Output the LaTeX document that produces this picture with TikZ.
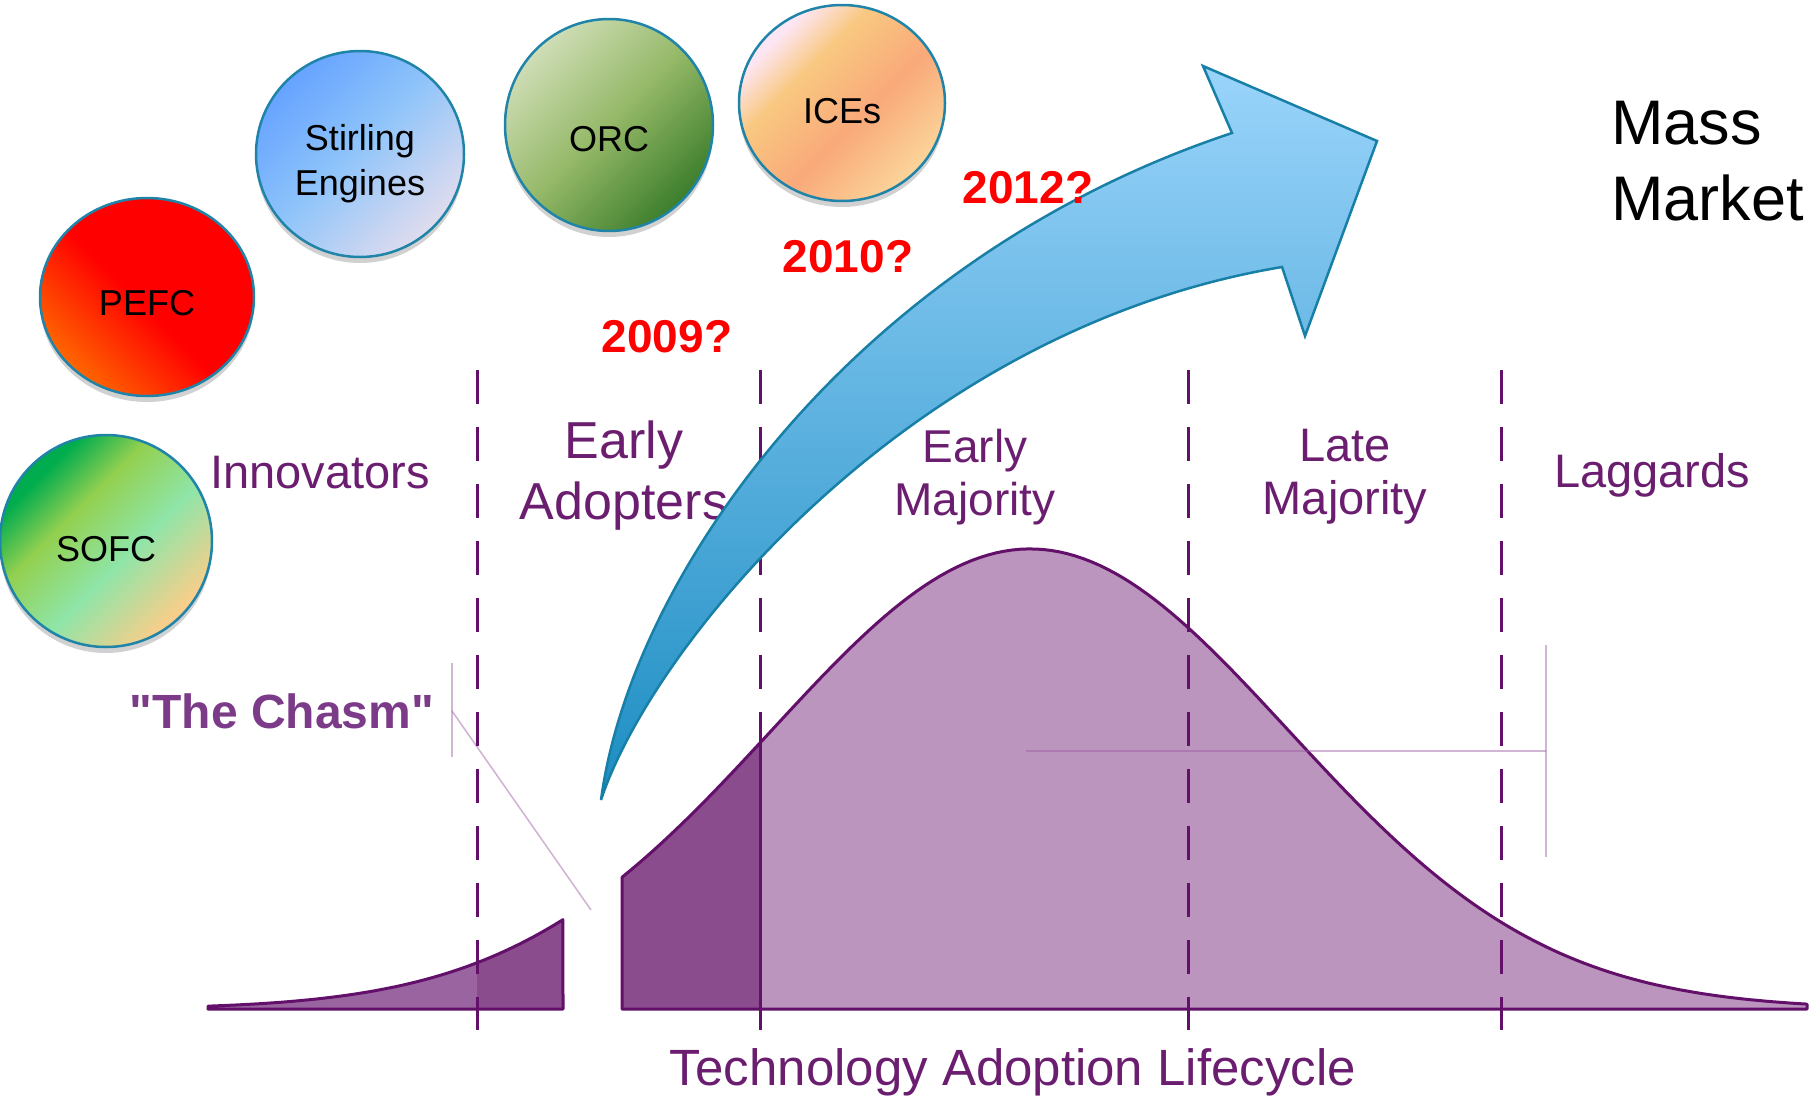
\documentclass[tikz,border=0pt]{standalone}
\usepackage{fontspec}
\setmainfont{Liberation Sans}
\usetikzlibrary{shapes.geometric,shadows}
\newcommand\sqglyph{\XeTeXglyph\XeTeXcharglyph"22\relax}
\definecolor{lblpurple}{HTML}{6B1E6F}
\definecolor{chasmpurple}{HTML}{7C3B88}
\definecolor{curveline}{HTML}{63106A}
\definecolor{innfill}{HTML}{9A64A0}
\definecolor{eafill}{HTML}{8B4C8E}
\definecolor{majfill}{HTML}{BB95BE}
\definecolor{pointer}{HTML}{9A5AA0}
\definecolor{circedge}{HTML}{1F84A8}
\definecolor{arrowedge}{HTML}{187FA6}
\definecolor{arrowtop}{HTML}{9AD4FB}
\definecolor{arrowmid}{HTML}{80C2EC}
\definecolor{arrowbot}{HTML}{1C8DC2}
\pgfdeclarehorizontalshading{sofcshade}{100bp}{color(0bp)=({rgb,255:red,0;green,172;blue,78}); color(28bp)=({rgb,255:red,0;green,172;blue,78}); color(40bp)=({rgb,255:red,146;green,208;blue,80}); color(56bp)=({rgb,255:red,143;green,229;blue,168}); color(75bp)=({rgb,255:red,255;green,204;blue,136}); color(100bp)=({rgb,255:red,255;green,204;blue,136})}
\pgfdeclarehorizontalshading{iceshade}{100bp}{color(0bp)=({rgb,255:red,253;green,230;blue,243}); color(27bp)=({rgb,255:red,253;green,230;blue,243}); color(38bp)=({rgb,255:red,249;green,200;blue,128}); color(56bp)=({rgb,255:red,249;green,169;blue,122}); color(75bp)=({rgb,255:red,251;green,213;blue,154}); color(100bp)=({rgb,255:red,251;green,213;blue,154})}
\pgfdeclarehorizontalshading{pefcshade}{100bp}{color(0bp)=({rgb,255:red,255;green,102;blue,0}); color(25bp)=({rgb,255:red,255;green,102;blue,0}); color(48bp)=({rgb,255:red,255;green,0;blue,0}); color(100bp)=({rgb,255:red,255;green,0;blue,0})}
\pgfdeclarehorizontalshading{stirshade}{100bp}{color(0bp)=({rgb,255:red,102;green,163;blue,255}); color(25bp)=({rgb,255:red,102;green,163;blue,255}); color(48bp)=({rgb,255:red,142;green,196;blue,250}); color(75bp)=({rgb,255:red,224;green,220;blue,238}); color(100bp)=({rgb,255:red,224;green,220;blue,238})}
\pgfdeclarehorizontalshading{orcshade}{100bp}{color(0bp)=({rgb,255:red,207;green,221;blue,182}); color(25bp)=({rgb,255:red,207;green,221;blue,182}); color(50bp)=({rgb,255:red,148;green,184;blue,103}); color(75bp)=({rgb,255:red,60;green,126;blue,44}); color(100bp)=({rgb,255:red,60;green,126;blue,44})}
\tikzset{
  circ/.style={ellipse, draw=circedge, line width=2.5pt, inner sep=0pt,
    drop shadow={fill=black, opacity=0.18, shadow xshift=0pt, shadow yshift=-6pt}},
  circtext/.style={inner sep=0pt, align=center, font=\fontsize{36}{45}\selectfont, text=black},
  lbl/.style={text=lblpurple, inner sep=0pt, align=center, anchor=base},
  yr/.style={text=red, inner sep=0pt, anchor=base, font=\bfseries\fontsize{46}{50}\selectfont},
  divider/.style={draw=curveline, line width=3pt, dash pattern=on 34pt off 23pt},
  curveedge/.style={draw=curveline, line width=3pt, line join=round},
  pointerline/.style={draw=pointer, line width=1.6pt, opacity=0.45},
  bigarrow/.style={draw=arrowedge, line width=2.5pt, line join=miter, top color=arrowtop, middle color=arrowmid, bottom color=arrowbot}
}
\begin{document}
\begin{tikzpicture}[x=1pt,y=-1pt]
\useasboundingbox (0,0) rectangle (1814,1098);
% ---- bell curve fills
\fill[innfill] (208,1009) -- plot[domain=-3.186:-2.143, samples=40] ({1030+258*\x},{1009-460*exp(-0.5*\x*\x)}) -- (477,1009) -- cycle;
\fill[eafill] (477,1009) -- plot[domain=-2.143:-1.810, samples=15] ({1030+258*\x},{1009-460*exp(-0.5*\x*\x)}) -- (563,1009) -- cycle;
\fill[eafill] (622,1009) -- plot[domain=-1.581:-1.0465, samples=20] ({1030+258*\x},{1009-460*exp(-0.5*\x*\x)}) -- (760,1009) -- cycle;
\fill[majfill] (760,1009) -- plot[domain=-1.0465:3.012, samples=120] ({1030+258*\x},{1009-460*exp(-0.5*\x*\x)}) -- (1807,1009) -- cycle;
% ---- bell curve outlines
\draw[curveedge] (208,1009) -- plot[domain=-3.186:-1.810, samples=50] ({1030+258*\x},{1009-460*exp(-0.5*\x*\x)}) -- (563,1009) -- cycle;
\draw[curveedge] (622,1009) -- plot[domain=-1.581:3.012, samples=150] ({1030+258*\x},{1009-460*exp(-0.5*\x*\x)}) -- (1807,1009) -- cycle;
\draw[curveedge] (760,1009) -- (760,743);
% ---- pointer lines
\coordinate (chasmtop) at (452,663);
\coordinate (chasmbot) at (452,757);
\coordinate (chasmknee) at (452,711);
\coordinate (chasmend) at (591,910);
\draw[pointerline] (chasmtop) -- (chasmbot);
\draw[pointerline] (chasmknee) -- (chasmend);
\coordinate (rbar) at (1026,751);
\coordinate (rknee) at (1546,751);
\coordinate (rtop) at (1546,645);
\coordinate (rbot) at (1546,857);
\draw[pointerline] (rbar) -- (rknee);
\draw[pointerline] (rtop) -- (rbot);
% ---- dividers
\foreach \dx/\nm in {477/da,760/db,1188/dc,1501/dd}{
  \coordinate (\nm t) at (\dx,370);
  \coordinate (\nm b) at (\dx,1030);
  \draw[divider] (\nm t) -- (\nm b);
}
% ---- segment labels (base anchor = baseline of last line)
\node[lbl, font=\fontsize{47}{53}\selectfont] (innov) at (320,488) {Innovators};
\node[lbl, font=\fontsize{52}{61}\selectfont] (eadopt) at (624,519) {Early\\Adopters};
\node[lbl, font=\fontsize{46}{53}\selectfont] (emaj) at (975,515) {Early\\Majority};
\node[lbl, font=\fontsize{47}{53}\selectfont] (lmaj) at (1345,514) {Late\\Majority};
\node[lbl, font=\fontsize{47}{53}\selectfont] (lagg) at (1652,487) {Laggards};
\node[lbl, font=\fontsize{51}{56}\selectfont] (tal) at (1013,1085) {Technology Adoption Lifecycle};
\node[lbl, text=chasmpurple, font=\bfseries\fontsize{48}{52}\selectfont] (chasm) at (282,728) {\sqglyph The Chasm\sqglyph};
% ---- big arrow
\coordinate (tail) at (601,800);
\coordinate (ocorner) at (1232,133);
\coordinate (lbarb) at (1203,66);
\coordinate (tip) at (1377,141);
\coordinate (rbarb) at (1305,336);
\coordinate (icorner) at (1282,267);
\draw[bigarrow] (tail) .. controls (630,580) and (850,260) .. (ocorner) -- (lbarb) -- (tip) -- (rbarb) -- (icorner) .. controls (905,330) and (650,650) .. (tail) -- cycle;
% ---- years
\node[yr] (y2009) at (667,352) {2009?};
\node[yr] (y2010) at (848,272) {2010?};
\node[yr] (y2012) at (1028,203) {2012?};
% ---- Mass Market
\node[anchor=base west, inner sep=0pt, align=left, font=\fontsize{63}{76}\selectfont] (mass) at (1611,220) {Mass\\Market};
% ---- technology circles
\node[circ, shade, shading=sofcshade, shading angle=-45, minimum width=212pt, minimum height=212pt] (sofc) at (106,541) {};
\node[circ, shade, shading=pefcshade, shading angle=45, minimum width=214pt, minimum height=198pt] (pefc) at (147,297) {};
\node[circ, shade, shading=stirshade, shading angle=-45, minimum width=208pt, minimum height=206pt] (stir) at (360,154) {};
\node[circ, shade, shading=orcshade, shading angle=-45, minimum width=208pt, minimum height=212pt] (orc) at (609,125) {};
\node[circ, shade, shading=iceshade, shading angle=-45, minimum width=206pt, minimum height=196pt] (ices) at (842,103) {};
\node[circtext] (sofct) at ([yshift=-8pt]sofc.center) {SOFC};
\node[circtext] (pefct) at ([yshift=-6pt]pefc.center) {PEFC};
\node[circtext] (stirt) at ([yshift=-10pt]stir.center) {Stirling\\Engines};
\node[circtext] (orct) at ([yshift=-14pt]orc.center) {ORC};
\node[circtext] (icest) at ([yshift=-8pt]ices.center) {ICEs};
\end{tikzpicture}
\end{document}
